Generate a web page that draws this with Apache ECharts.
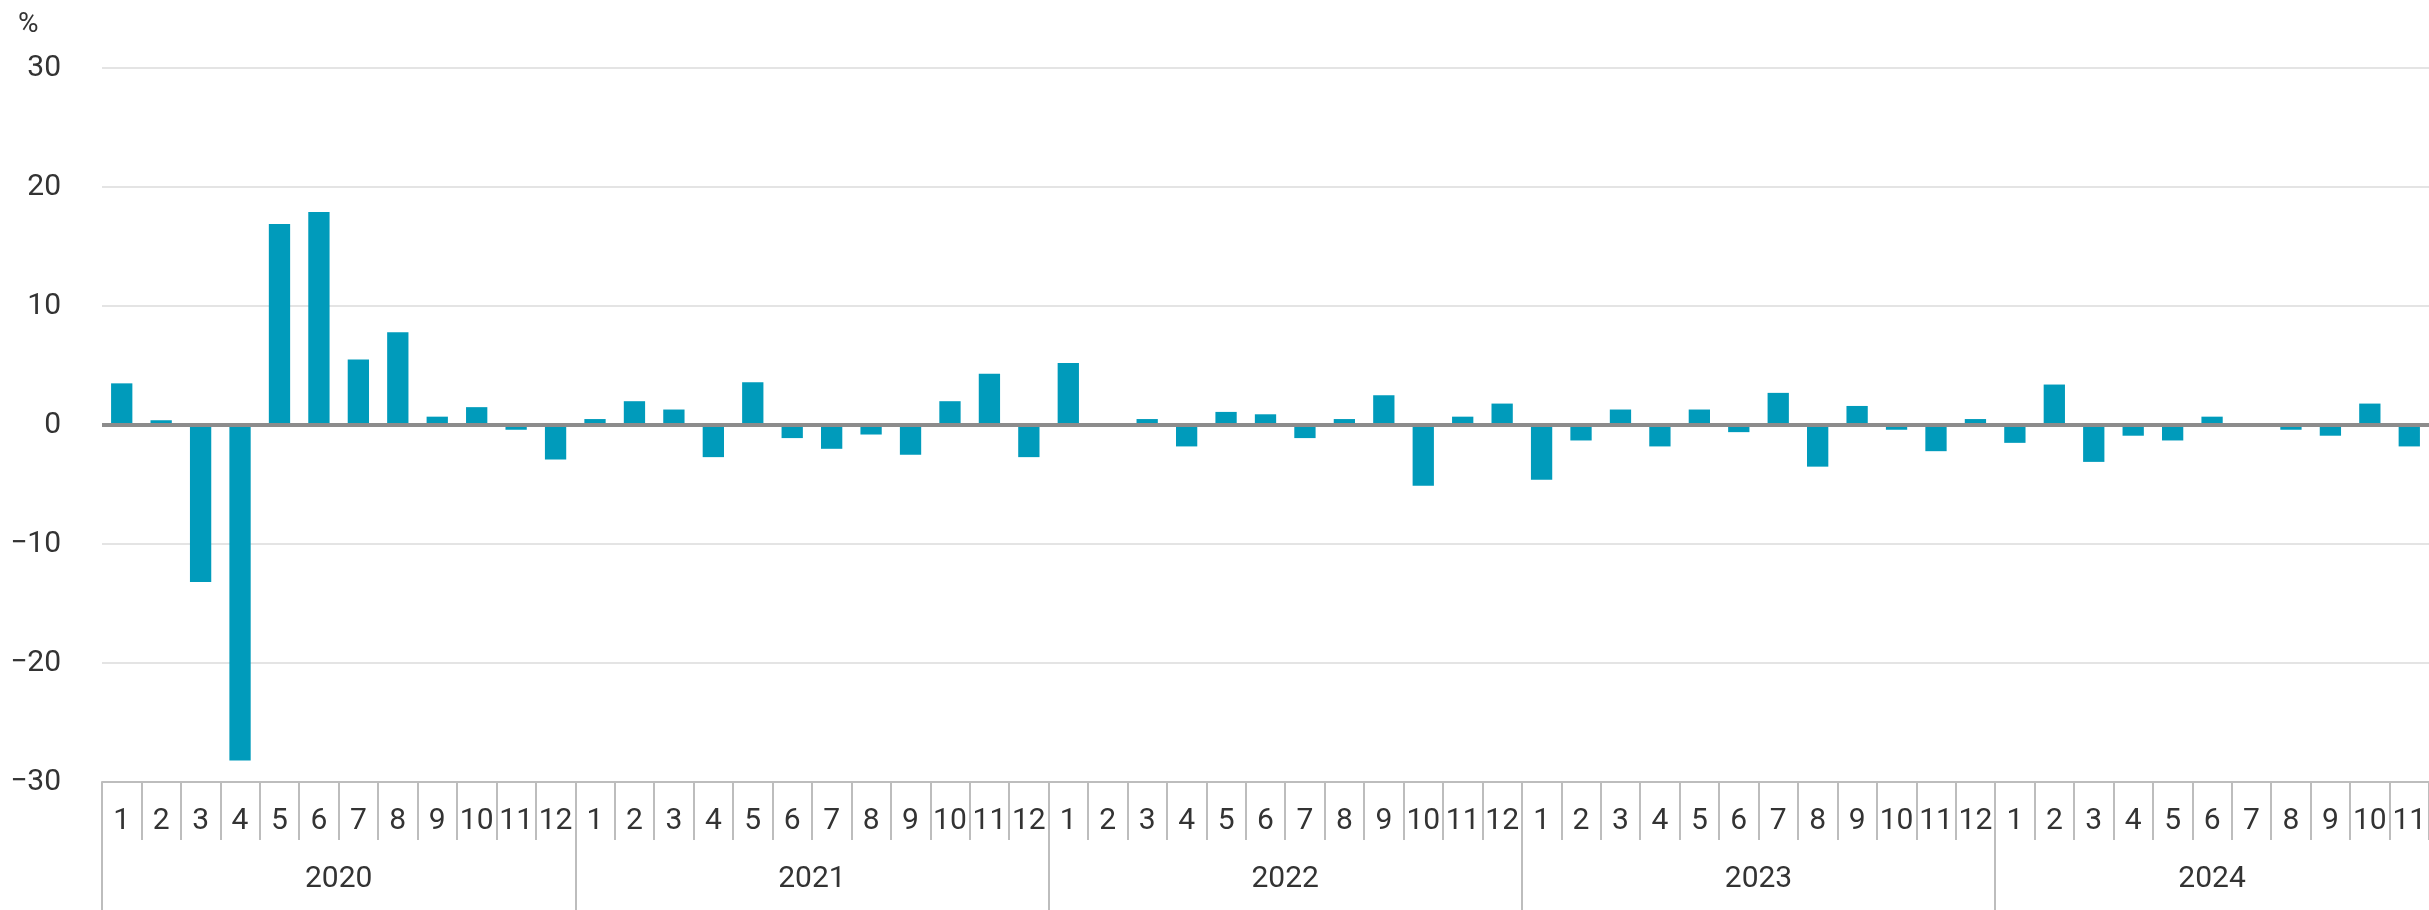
<!DOCTYPE html>
<html>
<head>
<meta charset="utf-8">
<script src="https://cdn.jsdelivr.net/npm/echarts@6/dist/echarts.min.js"></script>
<style>
  html, body { margin: 0; padding: 0; background: #fff; }
  #chart { width: 2429px; height: 910px; }
</style>
</head>
<body>
<div id="chart"></div>
<script>
// monthly change, %
var years = ['2020', '2021', '2022', '2023', '2024'];
var monthLabels = ['1', '2', '3', '4', '5', '6', '7', '8', '9', '10', '11', '12'];
var v2020 = [3.5, 0.4, -13.2, -28.2, 16.9, 17.9, 5.5, 7.8, 0.7, 1.5, -0.4, -2.9];
var v2021 = [0.5, 2.0, 1.3, -2.7, 3.6, -1.1, -2.0, -0.8, -2.5, 2.0, 4.3, -2.7];
var v2022 = [5.2, 0.1, 0.5, -1.8, 1.1, 0.9, -1.1, 0.5, 2.5, -5.1, 0.7, 1.8];
var v2023 = [-4.6, -1.3, 1.3, -1.8, 1.3, -0.6, 2.7, -3.5, 1.6, -0.4, -2.2, 0.5];
var v2024 = [-1.5, 3.4, -3.1, -0.9, -1.3, 0.7, 0, -0.4, -0.9, 1.8, -1.8];
var yTicks = [-30, -20, -10, 0, 10, 20, 30];

var perYear = [v2020, v2021, v2022, v2023, v2024];
var categories = [];
var values = [];
var yearStarts = [];
var yearMids = [];
perYear.forEach(function (arr, y) {
  yearStarts.push(categories.length);
  yearMids.push(categories.length + arr.length / 2);
  arr.forEach(function (v, m) {
    categories.push(years[y] + '-' + monthLabels[m]);
    values.push(v);
  });
});
var total = categories.length;

var textColor = '#333';
var sepColor = '#bdbdbd';
var font = '"Liberation Sans Narrow", Roboto, sans-serif';

var chart = echarts.init(document.getElementById('chart'));
chart.setOption({
  animation: false,
  title: {
    text: '%',
    left: 13,
    top: 6,
    textStyle: { fontFamily: font, fontSize: 28, fontWeight: 'normal', color: textColor }
  },
  grid: {
    left: 102,
    right: 0,
    top: 68,
    bottom: 128,
    containLabel: false,
    outerBoundsMode: 'none'
  },
  xAxis: [
    {
      type: 'category',
      data: categories,
      position: 'bottom',
      axisLine: { show: true, onZero: false, lineStyle: { color: sepColor, width: 2 } },
      axisTick: { show: true, interval: 0, length: 58, lineStyle: { color: sepColor, width: 2 } },
      axisLabel: {
        interval: 0,
        margin: 24,
        fontFamily: font,
        fontSize: 30,
        color: textColor,
        formatter: function (v) { return v.split('-')[1]; }
      },
      splitLine: { show: false }
    },
    {
      type: 'value',
      min: 0,
      max: total,
      position: 'bottom',
      axisLine: { show: false, onZero: false },
      splitLine: { show: false },
      axisTick: {
        show: true,
        length: 130,
        customValues: yearStarts,
        lineStyle: { color: sepColor, width: 2 }
      },
      axisLabel: {
        margin: 82,
        fontFamily: font,
        fontSize: 30,
        color: textColor,
        customValues: yearMids,
        formatter: function (v) {
          var i = yearMids.indexOf(v);
          return i >= 0 ? years[i] : '';
        }
      }
    }
  ],
  yAxis: {
    type: 'value',
    min: yTicks[0],
    max: yTicks[yTicks.length - 1],
    interval: 10,
    axisLine: { show: false },
    axisTick: { show: false },
    splitLine: { lineStyle: { color: '#e4e4e4', width: 2 } },
    axisLabel: {
      margin: 41,
      fontFamily: font,
      fontSize: 30,
      color: textColor,
      formatter: function (v) { return v < 0 ? '\u2212' + Math.abs(v) : String(v); }
    }
  },
  series: [
    {
      type: 'bar',
      data: values,
      barWidth: '54%',
      itemStyle: { color: '#009bbb' },
      markLine: {
        silent: true,
        symbol: 'none',
        label: { show: false },
        lineStyle: { color: '#8c8c8c', width: 4, type: 'solid' },
        data: [{ yAxis: 0 }]
      }
    }
  ]
});
</script>
</body>
</html>
